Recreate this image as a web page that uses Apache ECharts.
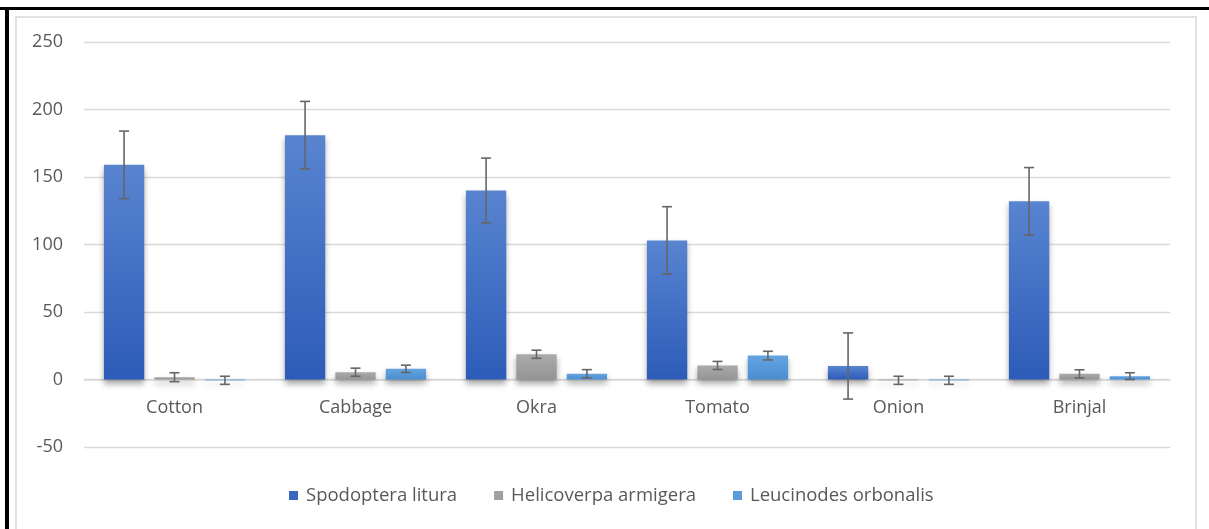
<!DOCTYPE html>
<html>
<head>
<meta charset="utf-8">
<script src="https://cdn.jsdelivr.net/npm/echarts@6/dist/echarts.min.js"></script>
<style>
html,body{margin:0;padding:0;background:#fff;}
#chart{width:1209px;height:529px;}
</style>
</head>
<body>
<div id="chart"></div>
<script>
const categories = ['Cotton', 'Cabbage', 'Okra', 'Tomato', 'Onion', 'Brinjal'];
const seriesNames = ['Spodoptera litura', 'Helicoverpa armigera', 'Leucinodes orbonalis'];
const spodoptera = [159, 181, 140, 103, 10, 132];
const helicoverpa = [1.7, 5.4, 18.7, 10.4, -0.6, 4.2];
const leucinodes = [-0.6, 7.9, 4.3, 17.7, -0.6, 2.5];
const spodopteraErr = [25, 25, 24, 25, 24.5, 25];
const helicoverpaErr = [3.3, 3, 3, 3, 3, 3];
const leucinodesErr = [3, 2.7, 3, 3.2, 3, 2.5];
const yTicks = [-50, 0, 50, 100, 150, 200, 250];

const values = [spodoptera, helicoverpa, leucinodes];
const errors = [spodopteraErr, helicoverpaErr, leucinodesErr];
const colors = [
  ['#5884D0', '#2D5CB8'],
  ['#AAAAAA', '#959595'],
  ['#64A4E0', '#4A8DD2']
];
const legendColors = ['#3A67C0', '#A0A0A0', '#5A9CDA'];
const CAT_GAP = 0.22, BAR_GAP = 0.25;
const FONT = 'Open Sans, Noto Sans, sans-serif';

const chart = echarts.init(document.getElementById('chart'), null, {renderer: 'canvas'});

function grad(c) {
  return new echarts.graphic.LinearGradient(0, 0, 0, 1, [
    {offset: 0, color: c[0]}, {offset: 1, color: c[1]}
  ]);
}

const barSeries = values.map((v, i) => ({
  name: seriesNames[i],
  type: 'bar',
  data: v,
  barCategoryGap: (CAT_GAP * 100) + '%',
  barGap: (BAR_GAP * 100) + '%',
  itemStyle: {
    color: grad(colors[i]),
    shadowColor: 'rgba(0,0,0,0.35)',
    shadowBlur: 6,
    shadowOffsetY: 4
  },
  emphasis: {disabled: true}
}));

const errSeries = values.map((v, i) => ({
  type: 'custom',
  name: 'err' + i,
  z: 10,
  silent: true,
  data: v.map((val, k) => [k, val - errors[i][k], val + errors[i][k]]),
  renderItem: function (params, api) {
    const k = api.value(0);
    const lo = api.coord([k, api.value(1)]);
    const hi = api.coord([k, api.value(2)]);
    const band = api.size([1, 0])[0];
    const remain = band * (1 - CAT_GAP);
    const bw = remain / (3 + 2 * BAR_GAP);
    const x = lo[0] - remain / 2 + i * bw * (1 + BAR_GAP) + bw / 2;
    const cap = 5;
    const st = {stroke: '#666666', lineWidth: 1.6, fill: null};
    return {
      type: 'group',
      children: [
        {type: 'line', shape: {x1: x, y1: lo[1], x2: x, y2: hi[1]}, style: st},
        {type: 'line', shape: {x1: x - cap, y1: lo[1], x2: x + cap, y2: lo[1]}, style: st},
        {type: 'line', shape: {x1: x - cap, y1: hi[1], x2: x + cap, y2: hi[1]}, style: st}
      ]
    };
  }
}));

const option = {
  animation: false,
  backgroundColor: '#ffffff',
  textStyle: {fontFamily: FONT},
  graphic: [
    {type: 'rect', shape: {x: 16, y: 17, width: 1180, height: 520}, style: {fill: null, stroke: '#d9d9d9', lineWidth: 1.5}, silent: true},
    {type: 'line', shape: {x1: 0, y1: 8.5, x2: 1209, y2: 8.5}, style: {stroke: '#000', lineWidth: 3}, silent: true},
    {type: 'line', shape: {x1: 7, y1: 7, x2: 7, y2: 529}, style: {stroke: '#000', lineWidth: 4}, silent: true}
  ],
  legend: {
    data: seriesNames.map((n, i) => ({name: n, itemStyle: {color: legendColors[i]}})),
    left: 284,
    top: 481,
    icon: 'rect',
    itemWidth: 9,
    itemHeight: 9,
    itemGap: 37,
    textStyle: {fontSize: 18.5, color: '#595959', fontFamily: FONT, padding: [0, 0, 0, 3]}
  },
  grid: {left: 84, right: 39, top: 42, bottom: 82, containLabel: false},
  xAxis: {
    type: 'category',
    data: categories,
    axisLine: {onZero: true, lineStyle: {color: '#d9d9d9', width: 1.5}},
    axisTick: {show: false},
    axisLabel: {fontSize: 18, color: '#595959', margin: -48, fontFamily: FONT}
  },
  yAxis: {
    type: 'value',
    min: yTicks[0],
    max: yTicks[yTicks.length - 1],
    interval: 50,
    axisLine: {show: false},
    axisTick: {show: false},
    splitLine: {lineStyle: {color: '#d9d9d9', width: 1.3}},
    axisLabel: {fontSize: 18, color: '#595959', margin: 21, fontFamily: FONT}
  },
  series: barSeries.concat(errSeries)
};
chart.setOption(option);
</script>
</body>
</html>
